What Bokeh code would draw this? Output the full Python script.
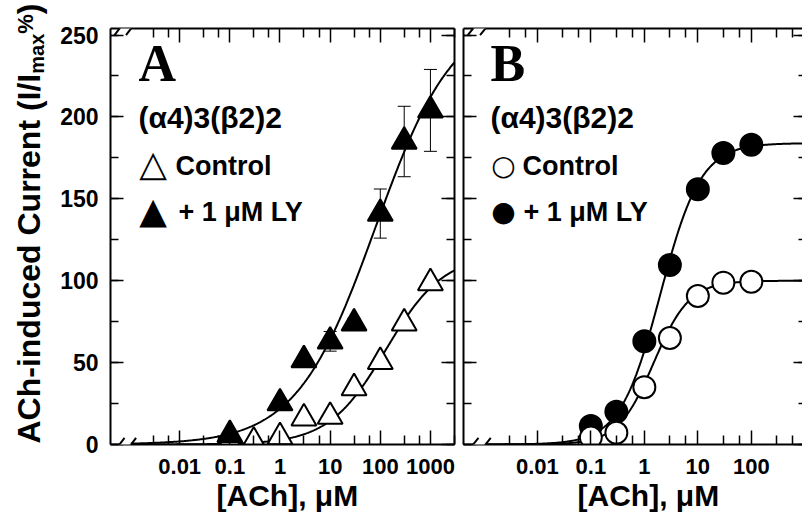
import numpy as np
from bokeh.plotting import figure
from bokeh.models import (Range1d, LogAxis, LinearAxis, FixedTicker, SingleIntervalTicker,
                          CustomJSTickFormatter, Label, Whisker, ColumnDataSource,
                          BoxAnnotation, Arrow, Title)
from bokeh.layouts import row
from bokeh.embed import file_html
from bokeh.resources import INLINE

# ---------------- data ----------------
conc_a_ctrl = [0.1, 0.3, 1, 3, 10, 30, 100, 300, 1000]
resp_a_ctrl = [1.5, 1.8, 4.6, 16, 17, 34.5, 50.5, 74, 98.6]
conc_a_ly = [0.1, 1, 3, 10, 30, 100, 300, 1000]
resp_a_ly = [6, 25.3, 51.6, 63, 74, 141, 185, 204]
err_a_ly = [0, 2, 0, 6, 3, 15, 21.5, 25]

conc_b = [0.1, 0.3, 1, 3, 10, 30, 100]
resp_b_ctrl = [4.2, 7.2, 35, 65, 90.7, 98.8, 99.4]
resp_b_ly = [11.3, 20, 63, 109.6, 155.8, 178, 183]

# Hill fits: (Emax %, EC50 uM, nH)
fit_a_ctrl = (116, 130, 0.76)
fit_a_ly = (265, 80, 0.55)
fit_b_ctrl = (100, 1.5, 1.3)
fit_b_ly = (184, 2.0, 1.15)

x_major_ticks = [0.01, 0.1, 1, 10, 100, 1000]
x_minor_ticks = [0.003, 0.006, 0.03, 0.06, 0.3, 0.6, 3, 6, 30, 60, 300, 600, 3000]
y_interval = 50

y_title = ["ACh-induced Current (I/I", "max", "%", ")"]
x_title = "[ACh], \u03bcM"
subunit = "(\u03b14)3(\u03b22)2"
leg_ctrl = "Control"
leg_ly = "+ 1 \u03bcM LY"

FONT = "Liberation Sans"
H = 517
YMAX = 254


def hill(x, p):
    e, c, n = p
    return e / (1.0 + (c / x) ** n)


def hide_labels(ax):
    ax.major_label_text_font_size = "1px"
    ax.major_label_text_color = None
    ax.major_label_standoff = 0


def style_axes(p, left_labels=True, right_line=True, right_in=(13, 8)):
    fmt = CustomJSTickFormatter(code="return tick.toString()")
    xt = FixedTicker(ticks=x_major_ticks, minor_ticks=x_minor_ticks)
    yt = SingleIntervalTicker(interval=y_interval, num_minor_ticks=2)
    bx = p.below[0]
    bx.ticker = xt
    bx.formatter = fmt
    ly = p.left[0]
    ly.ticker = yt
    top = LogAxis(ticker=xt)
    rgt = LinearAxis(ticker=yt)
    hide_labels(top)
    hide_labels(rgt)
    p.add_layout(top, "above")
    p.add_layout(rgt, "right")
    for ax in (bx, top):
        ax.major_tick_in = 14
        ax.minor_tick_in = 9
    for ax in (ly, rgt):
        ax.major_tick_in = 13
        ax.minor_tick_in = 8
    rgt.major_tick_in, rgt.minor_tick_in = right_in
    for ax in (bx, top, ly, rgt):
        ax.major_tick_out = 0
        ax.minor_tick_out = 0
        ax.axis_line_width = 2
        ax.axis_line_color = "black"
        ax.major_tick_line_width = 1.5
        ax.minor_tick_line_width = 1.5
        ax.major_tick_line_color = "black"
        ax.minor_tick_line_color = "black"
    if not right_line:
        rgt.axis_line_color = None
    bx.major_label_text_font = FONT
    bx.major_label_text_font_style = "bold"
    bx.major_label_text_font_size = "22px"
    bx.major_label_text_color = "black"
    bx.major_label_standoff = 14
    if left_labels:
        ly.major_label_text_font = FONT
        ly.major_label_text_font_style = "bold"
        ly.major_label_text_font_size = "23px"
        ly.major_label_text_color = "black"
        ly.major_label_standoff = 12
    else:
        hide_labels(ly)
    p.xgrid.visible = False
    p.ygrid.visible = False


def add_break(p, ytop):
    for yy in (0, ytop):
        p.add_layout(BoxAnnotation(left=10 ** -3.2, right=10 ** -2.97, bottom=yy - 1.3, top=yy + 1.3,
                                   fill_color="white", fill_alpha=1, line_color=None))
        for a, b in ((-3.30, -3.10), (-3.07, -2.87)):
            p.add_layout(Arrow(end=None, x_start=10 ** a, y_start=yy - 4, x_end=10 ** b, y_end=yy + 4,
                               line_width=2, line_color="black"))


def lab(p, x, y, text, size, font=FONT, style="bold", align="left", angle=0):
    p.add_layout(Label(x=x, y=y, x_units="screen", y_units="screen", text=text,
                       text_font=font, text_font_size=size, text_font_style=style,
                       text_align=align, text_baseline="alphabetic", angle=angle, angle_units="deg",
                       text_color="black"))


def x_title_below(p, offset):
    p.add_layout(Title(text=x_title, align="left", offset=offset, standoff=0,
                       text_font=FONT, text_font_size="30px", text_font_style="bold",
                       text_color="black"), "below")


# ---------------- y title strip ----------------
pY = figure(width=52, height=H, x_range=Range1d(0, 1), y_range=Range1d(0, 1),
            output_backend="svg", toolbar_location=None, min_border=0,
            outline_line_color=None, background_fill_color="white", border_fill_color="white")
pY.frame_align = False
pY.xaxis.visible = False
pY.yaxis.visible = False
pY.xgrid.visible = False
pY.ygrid.visible = False
y0 = 74
lab(pY, 28, y0, y_title[0], "32px", angle=90)
lab(pY, 36.4, y0 + 11.556 * 32, y_title[1], "20px", angle=90)
lab(pY, 24.6, y0 + 11.556 * 32 + 2.001 * 20, y_title[2], "22px", angle=90)
lab(pY, 28, y0 + 11.556 * 32 + 2.001 * 20 + 0.889 * 22, y_title[3], "32px", angle=90)

# ---------------- panel A ----------------
pA = figure(width=407, height=H, x_axis_type="log",
            x_range=Range1d(10 ** -3.38, 10 ** 3.48), y_range=Range1d(0, YMAX),
            output_backend="svg", toolbar_location=None,
            min_border_left=58, min_border_right=5, min_border_top=28, min_border_bottom=73,
            outline_line_color=None, background_fill_color="white", border_fill_color="white")
style_axes(pA)
x_title_below(pA, 106)

xa = np.logspace(-3, 3.48, 400)
pA.line(xa, hill(xa, fit_a_ly), line_color="black", line_width=2)
pA.line(xa, hill(xa, fit_a_ctrl), line_color="black", line_width=2)

src_ly = ColumnDataSource(dict(x=conc_a_ly, y=resp_a_ly,
                               lo=[v - e for v, e in zip(resp_a_ly, err_a_ly)],
                               hi=[v + e for v, e in zip(resp_a_ly, err_a_ly)]))
w = Whisker(source=src_ly, base="x", upper="hi", lower="lo", line_width=1, line_color="black")
w.upper_head.size = 13
w.lower_head.size = 13
w.upper_head.line_width = 1
w.lower_head.line_width = 1
pA.add_layout(w)

pA.scatter(conc_a_ctrl, resp_a_ctrl, marker="triangle", size=25, fill_color="white",
           line_color="black", line_width=2)
pA.scatter(conc_a_ly, resp_a_ly, marker="triangle", size=25, fill_color="black",
           line_color="black", line_width=2)
add_break(pA, YMAX)

# texts (screen units relative to the frame)
lab(pA, 28, 381.5, "A", "52px", font="Liberation Serif")
lab(pA, 28, 327, subunit, "30px")
lab(pA, 42.5, 281, "\u25b3", "36px", font="DejaVu Sans", style="normal", align="center")
lab(pA, 65, 278.5, leg_ctrl, "27px")
lab(pA, 42.5, 234.5, "\u25b2", "36px", font="DejaVu Sans", style="normal", align="center")
lab(pA, 68, 232.3, leg_ly, "27px")

# ---------------- panel B ----------------
pB = figure(width=343, height=H, x_axis_type="log",
            x_range=Range1d(10 ** -3.38, 10 ** 2.956), y_range=Range1d(0, YMAX),
            output_backend="svg", toolbar_location=None,
            min_border_left=4, min_border_right=0, min_border_top=28, min_border_bottom=73,
            outline_line_color=None, background_fill_color="white", border_fill_color="white")
style_axes(pB, left_labels=False, right_line=False, right_in=(9, 4))
x_title_below(pB, 114)

xb = np.logspace(-3, 2.956, 400)
pB.line(xb, hill(xb, fit_b_ly), line_color="black", line_width=2)
pB.line(xb, hill(xb, fit_b_ctrl), line_color="black", line_width=2)
pB.scatter(conc_b, resp_b_ly, marker="circle", size=22, fill_color="black",
           line_color="black", line_width=2)
pB.scatter(conc_b, resp_b_ctrl, marker="circle", size=22, fill_color="white",
           line_color="black", line_width=2)
add_break(pB, YMAX)

lab(pB, 27, 381.2, "B", "52px", font="Liberation Serif")
lab(pB, 27, 327, subunit, "30px")
lab(pB, 40, 279, "\u25cb", "28px", font="DejaVu Sans", style="normal", align="center")
lab(pB, 59, 278.5, leg_ctrl, "27px")
lab(pB, 40, 233, "\u25cf", "28px", font="DejaVu Sans", style="normal", align="center")
lab(pB, 60, 232.3, leg_ly, "27px")

layout = row(pY, pA, pB, spacing=0)
open("out.html", "w").write(file_html(layout, INLINE))
